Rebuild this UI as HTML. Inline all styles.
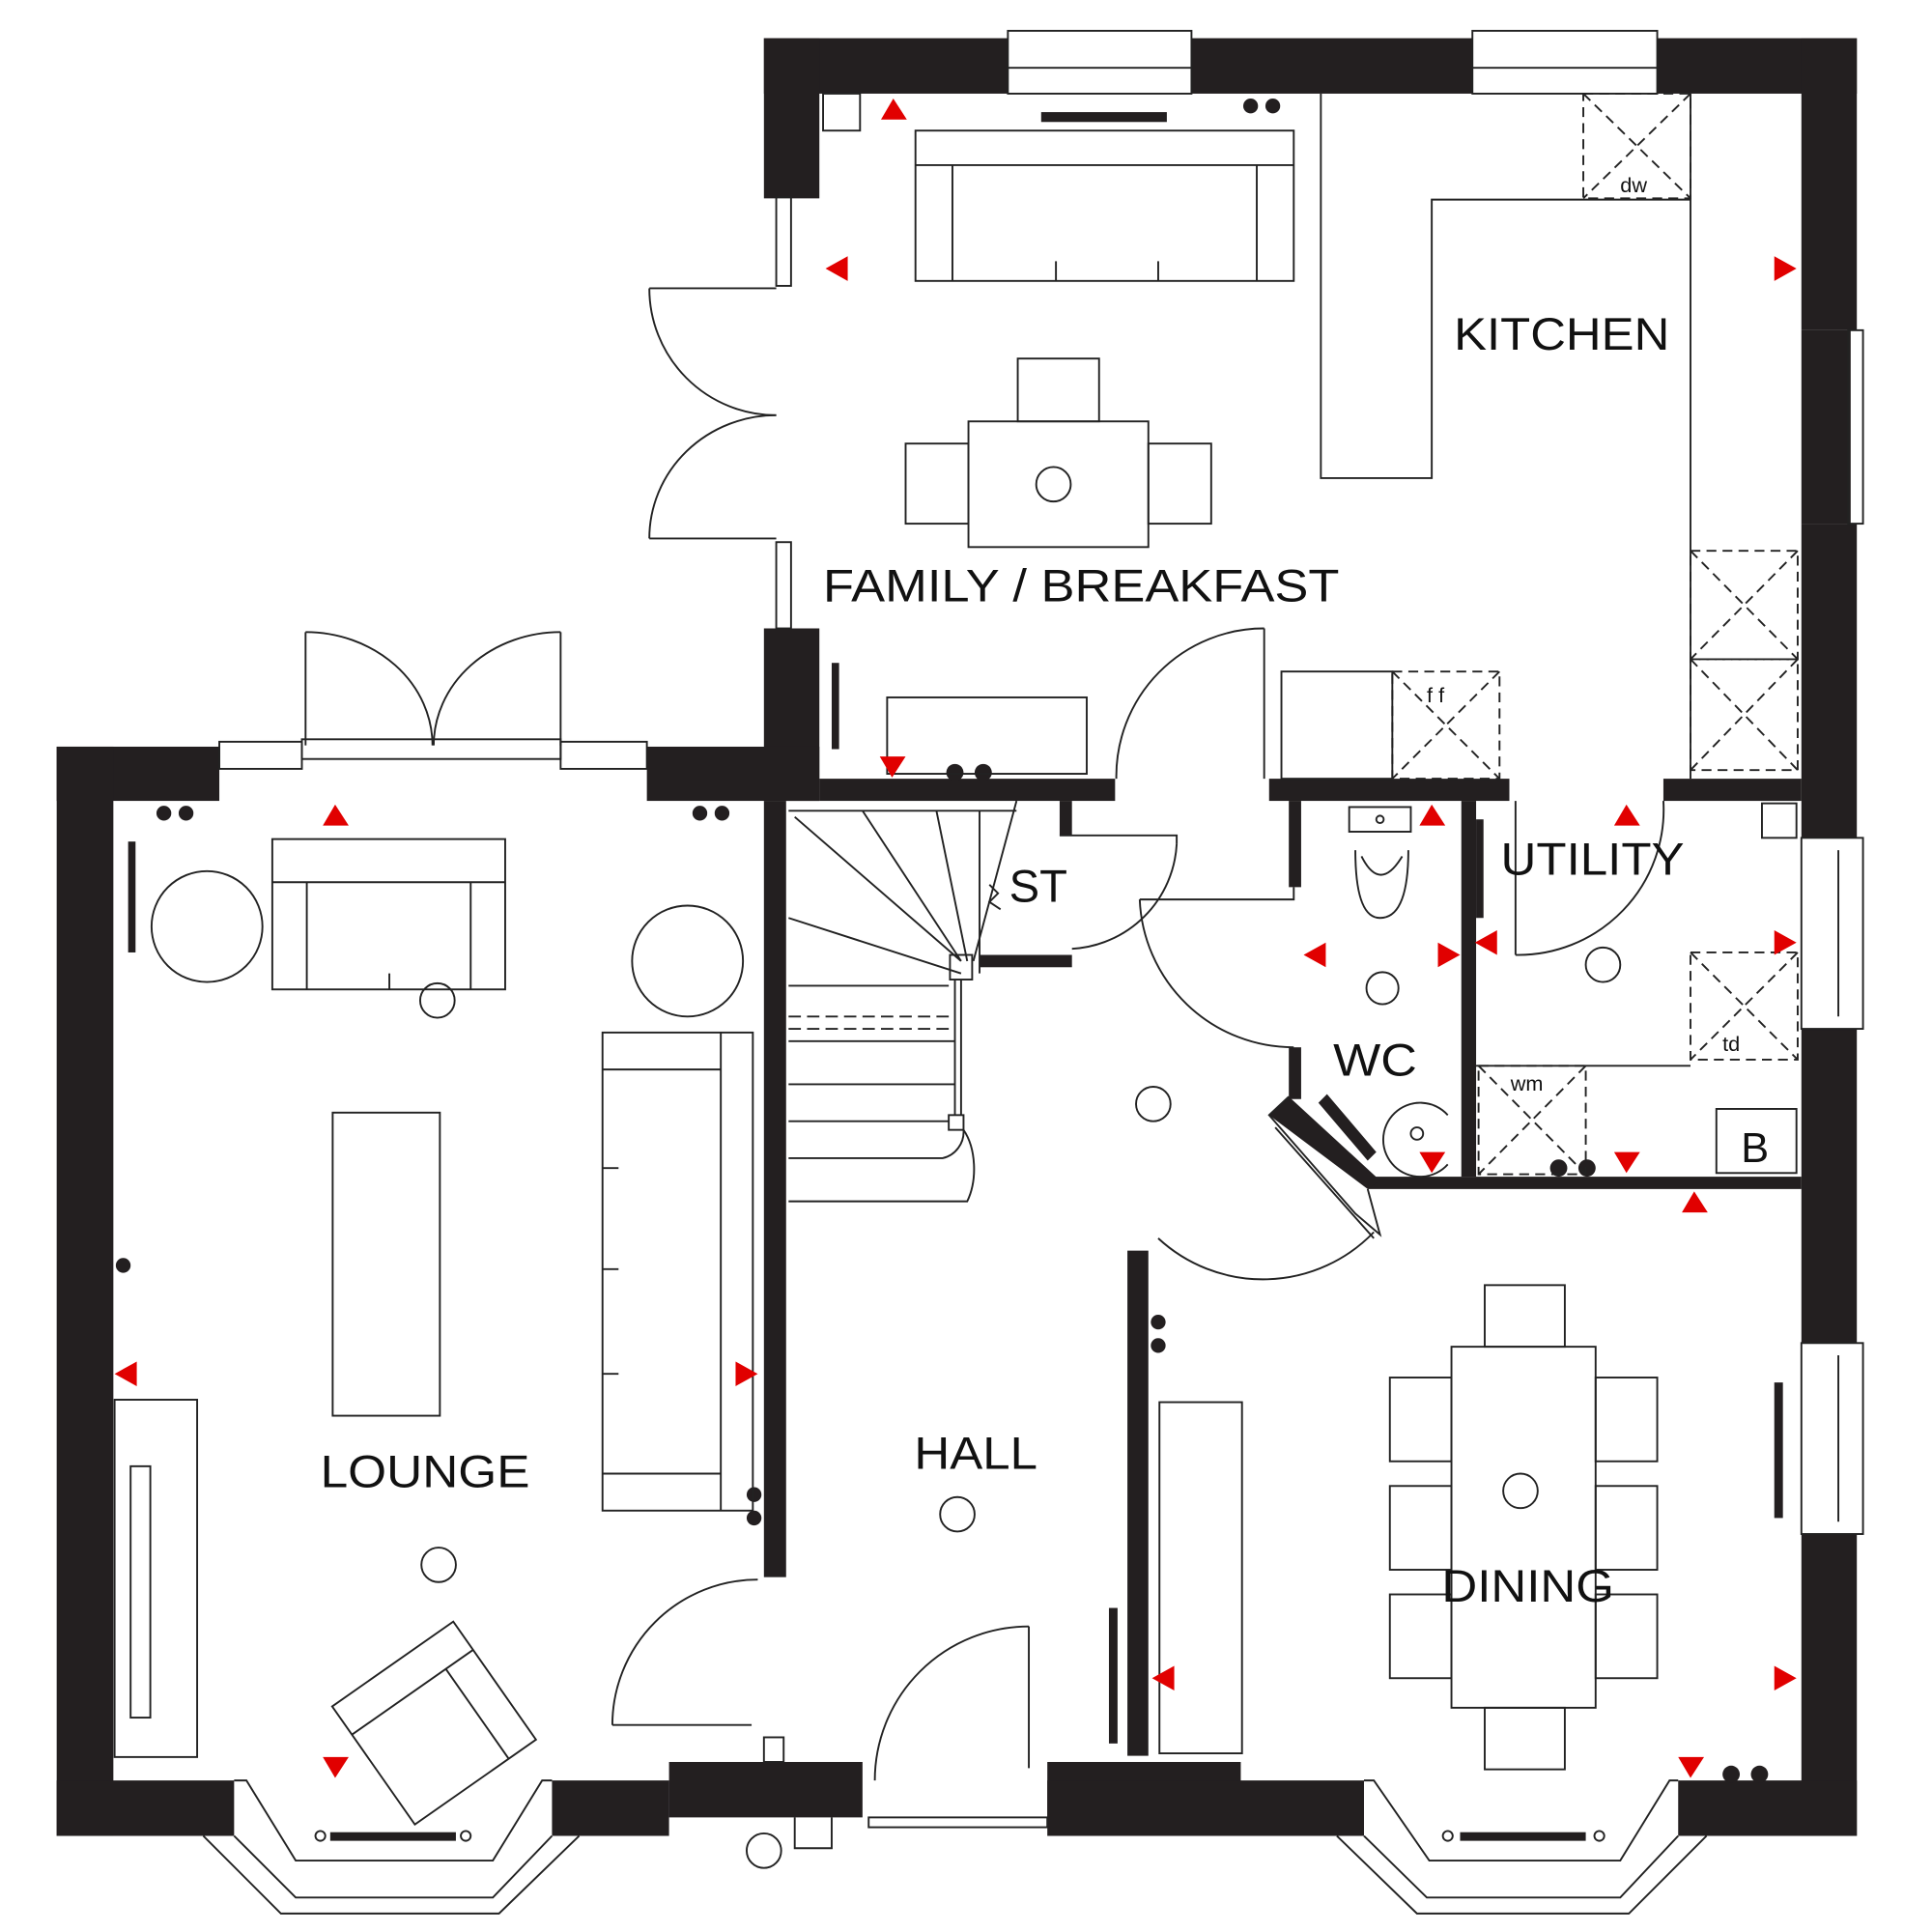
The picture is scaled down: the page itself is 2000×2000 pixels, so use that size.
<!DOCTYPE html>
<html><head><meta charset="utf-8"><style>html,body{margin:0;padding:0;background:#fff}svg{display:block}</style></head>
<body>
<svg width="2000" height="2000" viewBox="0 0 1568 1568" preserveAspectRatio="none" xmlns="http://www.w3.org/2000/svg">
<rect width="1568" height="1568" fill="#fff"/>
<g fill="#231f20">
<rect x="620" y="31" width="198" height="45"/>
<rect x="620" y="31" width="45" height="130"/>
<rect x="967" y="31" width="228" height="45"/>
<rect x="1345" y="31" width="162" height="45"/>
<rect x="1462" y="31" width="45" height="237"/>
<rect x="1462" y="268" width="40" height="157"/>
<rect x="1462" y="425" width="45" height="255"/>
<rect x="1462" y="835" width="45" height="255"/>
<rect x="1462" y="1245" width="45" height="245"/>
<rect x="620" y="510" width="45" height="140"/>
<rect x="46" y="606" width="132" height="44"/>
<rect x="525" y="606" width="140" height="44"/>
<rect x="46" y="606" width="46" height="884"/>
<rect x="46" y="1445" width="144" height="45"/>
<rect x="448" y="1445" width="95" height="45"/>
<rect x="543" y="1430" width="157" height="45"/>
<rect x="850" y="1430" width="157" height="45"/>
<rect x="850" y="1445" width="257" height="45"/>
<rect x="1362" y="1445" width="145" height="45"/>
<rect x="665" y="632" width="240" height="18"/>
<rect x="620" y="650" width="18" height="630"/>
<rect x="1030" y="632" width="195" height="18"/>
<rect x="1350" y="632" width="112" height="18"/>
<rect x="1046" y="650" width="10" height="70"/>
<rect x="1046" y="850" width="10" height="42"/>
<rect x="1186" y="650" width="12" height="305"/>
<rect x="1110" y="955" width="352" height="10"/>
<rect x="915" y="1015" width="17" height="410"/>
<rect x="860" y="650" width="10" height="28"/>
<rect x="795" y="775" width="75" height="10"/>
<polygon points="1030,905 1046,890 1120,958 1110,965"/>
<rect x="845" y="91" width="102" height="8"/>
<rect x="104" y="683" width="6" height="90"/>
<rect x="675" y="538" width="6" height="70"/>
<rect x="1198" y="665" width="6" height="80"/>
<rect x="900" y="1305" width="7" height="110"/>
<rect x="1440" y="1122" width="7" height="110"/>
<rect x="268" y="1487" width="102" height="7"/>
<rect x="1185" y="1487" width="102" height="7"/>
<polygon points="1070,895 1077,888 1117,935 1110,942"/>
<circle cx="1015" cy="86" r="6"/><circle cx="1033" cy="86" r="6"/>
<circle cx="133" cy="660" r="6"/><circle cx="151" cy="660" r="6"/>
<circle cx="568" cy="660" r="6"/><circle cx="586" cy="660" r="6"/>
<circle cx="775" cy="627" r="7"/><circle cx="798" cy="627" r="7"/>
<circle cx="1265" cy="948" r="7"/><circle cx="1288" cy="948" r="7"/>
<circle cx="1405" cy="1440" r="7"/><circle cx="1428" cy="1440" r="7"/>
<circle cx="100" cy="1027" r="6"/>
<circle cx="612" cy="1213" r="6"/><circle cx="612" cy="1232" r="6"/>
<circle cx="940" cy="1073" r="6"/><circle cx="940" cy="1092" r="6"/>
</g>
<g fill="none" stroke="#222" stroke-width="1.5">
<rect x="818" y="25" width="149" height="51"/><line x1="818" y1="55" x2="967" y2="55"/>
<rect x="1195" y="25" width="150" height="51"/><line x1="1195" y1="55" x2="1345" y2="55"/>
<rect x="1500" y="268" width="12" height="157"/>
<rect x="1462" y="680" width="50" height="155"/><line x1="1492" y1="690" x2="1492" y2="825"/>
<rect x="1462" y="1090" width="50" height="155"/><line x1="1492" y1="1100" x2="1492" y2="1235"/>
<rect x="178" y="602" width="67" height="22"/><rect x="455" y="602" width="70" height="22"/>
<rect x="245" y="600" width="210" height="16"/>
<rect x="630" y="160" width="12" height="72"/><rect x="630" y="440" width="12" height="70"/>
<rect x="668" y="76" width="30" height="30"/>
<line x1="248" y1="513" x2="248" y2="605"/><path d="M248,513 A103,92 0 0 1 351,605"/>
<line x1="455" y1="513" x2="455" y2="605"/><path d="M455,513 A103,92 0 0 0 352,605"/>
<line x1="527" y1="234" x2="630" y2="234"/><path d="M527,234 A103,103 0 0 0 630,337"/>
<line x1="527" y1="437" x2="630" y2="437"/><path d="M527,437 A103,100 0 0 1 630,337"/>
<rect x="743" y="106" width="307" height="122"/><line x1="743" y1="134" x2="1050" y2="134"/>
<line x1="773" y1="134" x2="773" y2="228"/><line x1="1020" y1="134" x2="1020" y2="228"/>
<line x1="857" y1="212" x2="857" y2="228"/><line x1="940" y1="212" x2="940" y2="228"/>
<rect x="786" y="342" width="146" height="102"/>
<rect x="826" y="291" width="66" height="51"/><rect x="735" y="360" width="51" height="65"/>
<rect x="932" y="360" width="51" height="65"/>
<circle cx="855" cy="393" r="14"/>
<polyline points="1072,76 1072,388 1162,388 1162,162 1372,162"/>
<line x1="1372" y1="76" x2="1372" y2="632"/>
<rect x="1285" y="76" width="87" height="85" stroke-dasharray="8,5"/>
<path d="M1285,76 L1372,161 M1372,76 L1285,161" stroke-dasharray="8,5"/>
<rect x="1372" y="447" width="87" height="88" stroke-dasharray="8,5"/>
<path d="M1372,447 L1459,535 M1459,447 L1372,535" stroke-dasharray="8,5"/>
<rect x="1372" y="535" width="87" height="90" stroke-dasharray="8,5"/>
<path d="M1372,535 L1459,625 M1459,535 L1372,625" stroke-dasharray="8,5"/>
<rect x="1040" y="545" width="90" height="87"/>
<rect x="1130" y="545" width="87" height="87" stroke-dasharray="8,5"/>
<path d="M1130,545 L1217,632 M1217,545 L1130,632" stroke-dasharray="8,5"/>
<rect x="720" y="566" width="162" height="62"/>
<line x1="1026" y1="510" x2="1026" y2="632"/>
<path d="M1026,510 A120,120 0 0 0 906,632"/>
<polyline points="860,678 955,678 955,685"/>
<path d="M955,685 A90,90 0 0 1 870,770"/>
<polyline points="925,730 1050,730 1050,720"/>
<path d="M925,730 A125,125 0 0 0 1050,850"/>
<line x1="640" y1="658" x2="825" y2="658"/>
<line x1="645" y1="663" x2="780" y2="780"/>
<line x1="700" y1="658" x2="780" y2="780"/>
<line x1="760" y1="658" x2="785" y2="780"/>
<line x1="795" y1="658" x2="795" y2="790"/>
<line x1="825" y1="650" x2="790" y2="780"/>
<line x1="640" y1="745" x2="780" y2="790"/>
<rect x="771" y="775" width="18" height="20"/>
<line x1="775" y1="795" x2="775" y2="905"/><line x1="780" y1="795" x2="780" y2="905"/>
<rect x="770" y="905" width="12" height="12"/>
<line x1="640" y1="800" x2="770" y2="800"/>
<line x1="640" y1="825" x2="775" y2="825" stroke-dasharray="10,5"/>
<line x1="640" y1="835" x2="775" y2="835" stroke-dasharray="10,5"/>
<line x1="640" y1="845" x2="775" y2="845"/>
<line x1="640" y1="880" x2="775" y2="880"/>
<line x1="640" y1="910" x2="770" y2="910"/>
<path d="M640,940 L765,940 A22,22 0 0 0 782,917"/>
<path d="M640,975 L785,975 A25,42 0 0 0 782,917"/>
<path d="M803,718 L810,725 L803,732 L812,738"/>
<path d="M1100,690 Q1100,745 1120,745 Q1143,745 1143,690"/>
<path d="M1105,695 Q1120,725 1138,695"/>
<rect x="1095" y="655" width="50" height="20"/><circle cx="1120" cy="665" r="3"/>
<circle cx="1122" cy="802" r="13"/>
<path d="M1175,905 A30,30 0 1 0 1175,945"/><circle cx="1150" cy="920" r="5"/>
<path d="M1046,890 L1030,905 L1100,985 L1120,1002 L1110,965"/>
<line x1="1035" y1="915" x2="1115" y2="1005"/>
<path d="M940,1005 A125,125 0 0 0 1115,1000"/>
<line x1="1230" y1="650" x2="1230" y2="775"/>
<path d="M1230,775 A118,118 0 0 0 1350,650"/>
<circle cx="1301" cy="783" r="14"/>
<line x1="1198" y1="865" x2="1372" y2="865"/>
<rect x="1372" y="773" width="87" height="87" stroke-dasharray="8,5"/>
<path d="M1372,773 L1459,860 M1459,773 L1372,860" stroke-dasharray="8,5"/>
<rect x="1200" y="865" width="87" height="88" stroke-dasharray="8,5"/>
<path d="M1200,865 L1287,953 M1287,865 L1200,953" stroke-dasharray="8,5"/>
<rect x="1393" y="900" width="65" height="52"/>
<rect x="1430" y="652" width="28" height="28"/>
<rect x="221" y="681" width="189" height="122"/><line x1="221" y1="716" x2="410" y2="716"/>
<line x1="249" y1="716" x2="249" y2="803"/><line x1="382" y1="716" x2="382" y2="803"/>
<line x1="316" y1="790" x2="316" y2="803"/>
<circle cx="168" cy="752" r="45"/><circle cx="558" cy="780" r="45"/>
<circle cx="355" cy="812" r="14"/>
<rect x="270" y="903" width="87" height="246"/>
<rect x="489" y="838" width="122" height="388"/><line x1="585" y1="838" x2="585" y2="1226"/>
<line x1="489" y1="868" x2="585" y2="868"/><line x1="489" y1="1196" x2="585" y2="1196"/>
<line x1="489" y1="948" x2="502" y2="948"/><line x1="489" y1="1115" x2="502" y2="1115"/>
<line x1="489" y1="1030" x2="502" y2="1030"/>
<rect x="93" y="1136" width="67" height="290"/>
<rect x="106" y="1190" width="16" height="204"/>
<circle cx="356" cy="1270" r="14"/>
<g transform="rotate(-35 352 1398)"><rect x="292" y="1340" width="120" height="117"/><line x1="292" y1="1368" x2="412" y2="1368"/><line x1="385" y1="1368" x2="385" y2="1457"/></g>
<polyline points="190,1445 200,1445 240,1510 400,1510 440,1445 448,1445"/>
<polyline points="165,1490 228,1553 405,1553 470,1490"/>
<polyline points="190,1490 240,1540 400,1540 448,1490"/>
<circle cx="260" cy="1490" r="4"/><circle cx="378" cy="1490" r="4"/>
<polyline points="1107,1445 1115,1445 1160,1510 1315,1510 1355,1445 1362,1445"/>
<polyline points="1085,1490 1150,1553 1322,1553 1385,1490"/>
<polyline points="1107,1490 1158,1540 1315,1540 1362,1490"/>
<circle cx="1175" cy="1490" r="4"/><circle cx="1298" cy="1490" r="4"/>
<line x1="497" y1="1400" x2="610" y2="1400"/><path d="M497,1400 A118,118 0 0 1 615,1282"/>
<line x1="835" y1="1320" x2="835" y2="1435"/><path d="M835,1320 A125,125 0 0 0 710,1445"/>
<rect x="705" y="1475" width="145" height="8"/>
<rect x="620" y="1410" width="16" height="20"/>
<circle cx="620" cy="1502" r="14"/>
<polyline points="645,1475 645,1500 675,1500 675,1475"/>
<circle cx="936" cy="896" r="14"/><circle cx="777" cy="1229" r="14"/>
<rect x="941" y="1138" width="67" height="285"/>
<rect x="1178" y="1093" width="117" height="293"/>
<rect x="1205" y="1043" width="65" height="50"/><rect x="1205" y="1386" width="65" height="50"/>
<rect x="1128" y="1118" width="50" height="68"/><rect x="1128" y="1206" width="50" height="68"/><rect x="1128" y="1294" width="50" height="68"/>
<rect x="1295" y="1118" width="50" height="68"/><rect x="1295" y="1206" width="50" height="68"/><rect x="1295" y="1294" width="50" height="68"/>
<circle cx="1234" cy="1210" r="14"/>
</g>
<g font-family="Liberation Sans, sans-serif" fill="#111">
<text x="668" y="488" font-size="37" textLength="419" lengthAdjust="spacingAndGlyphs">FAMILY / BREAKFAST</text>
<text x="1180" y="284" font-size="37" textLength="175" lengthAdjust="spacingAndGlyphs">KITCHEN</text>
<text x="260" y="1207" font-size="37" textLength="170" lengthAdjust="spacingAndGlyphs">LOUNGE</text>
<text x="742" y="1192" font-size="37" textLength="100" lengthAdjust="spacingAndGlyphs">HALL</text>
<text x="1170" y="1300" font-size="37" textLength="140" lengthAdjust="spacingAndGlyphs">DINING</text>
<text x="819" y="732" font-size="37">ST</text>
<text x="1082" y="873" font-size="37" textLength="68" lengthAdjust="spacingAndGlyphs">WC</text>
<text x="1218" y="710" font-size="37" textLength="149" lengthAdjust="spacingAndGlyphs">UTILITY</text>
<text x="1413" y="943" font-size="34">B</text>
<text x="1315" y="156" font-size="17">dw</text>
<text x="1158" y="570" font-size="17">f f</text>
<text x="1398" y="853" font-size="17">td</text>
<text x="1226" y="885" font-size="17">wm</text>
</g>
<g fill="#e10000">
<polygon points="725,80 715,97 736,97"/>
<polygon points="670,218 688,208 688,228"/>
<polygon points="1458,218 1440,208 1440,228"/>
<polygon points="724,631 714,614 735,614"/>
<polygon points="272,653 262,670 283,670"/>
<polygon points="1162,653 1152,670 1173,670"/>
<polygon points="1320,653 1310,670 1331,670"/>
<polygon points="1058,775 1076,765 1076,785"/>
<polygon points="1185,775 1167,765 1167,785"/>
<polygon points="1197,765 1215,755 1215,775"/>
<polygon points="1458,765 1440,755 1440,775"/>
<polygon points="1162,952 1152,935 1173,935"/>
<polygon points="1320,952 1310,935 1331,935"/>
<polygon points="1375,967 1365,984 1386,984"/>
<polygon points="93,1115 111,1105 111,1125"/>
<polygon points="615,1115 597,1105 597,1125"/>
<polygon points="935,1362 953,1352 953,1372"/>
<polygon points="1458,1362 1440,1352 1440,1372"/>
<polygon points="272,1443 262,1426 283,1426"/>
<polygon points="1372,1443 1362,1426 1383,1426"/>
</g>
</svg>
</body></html>
